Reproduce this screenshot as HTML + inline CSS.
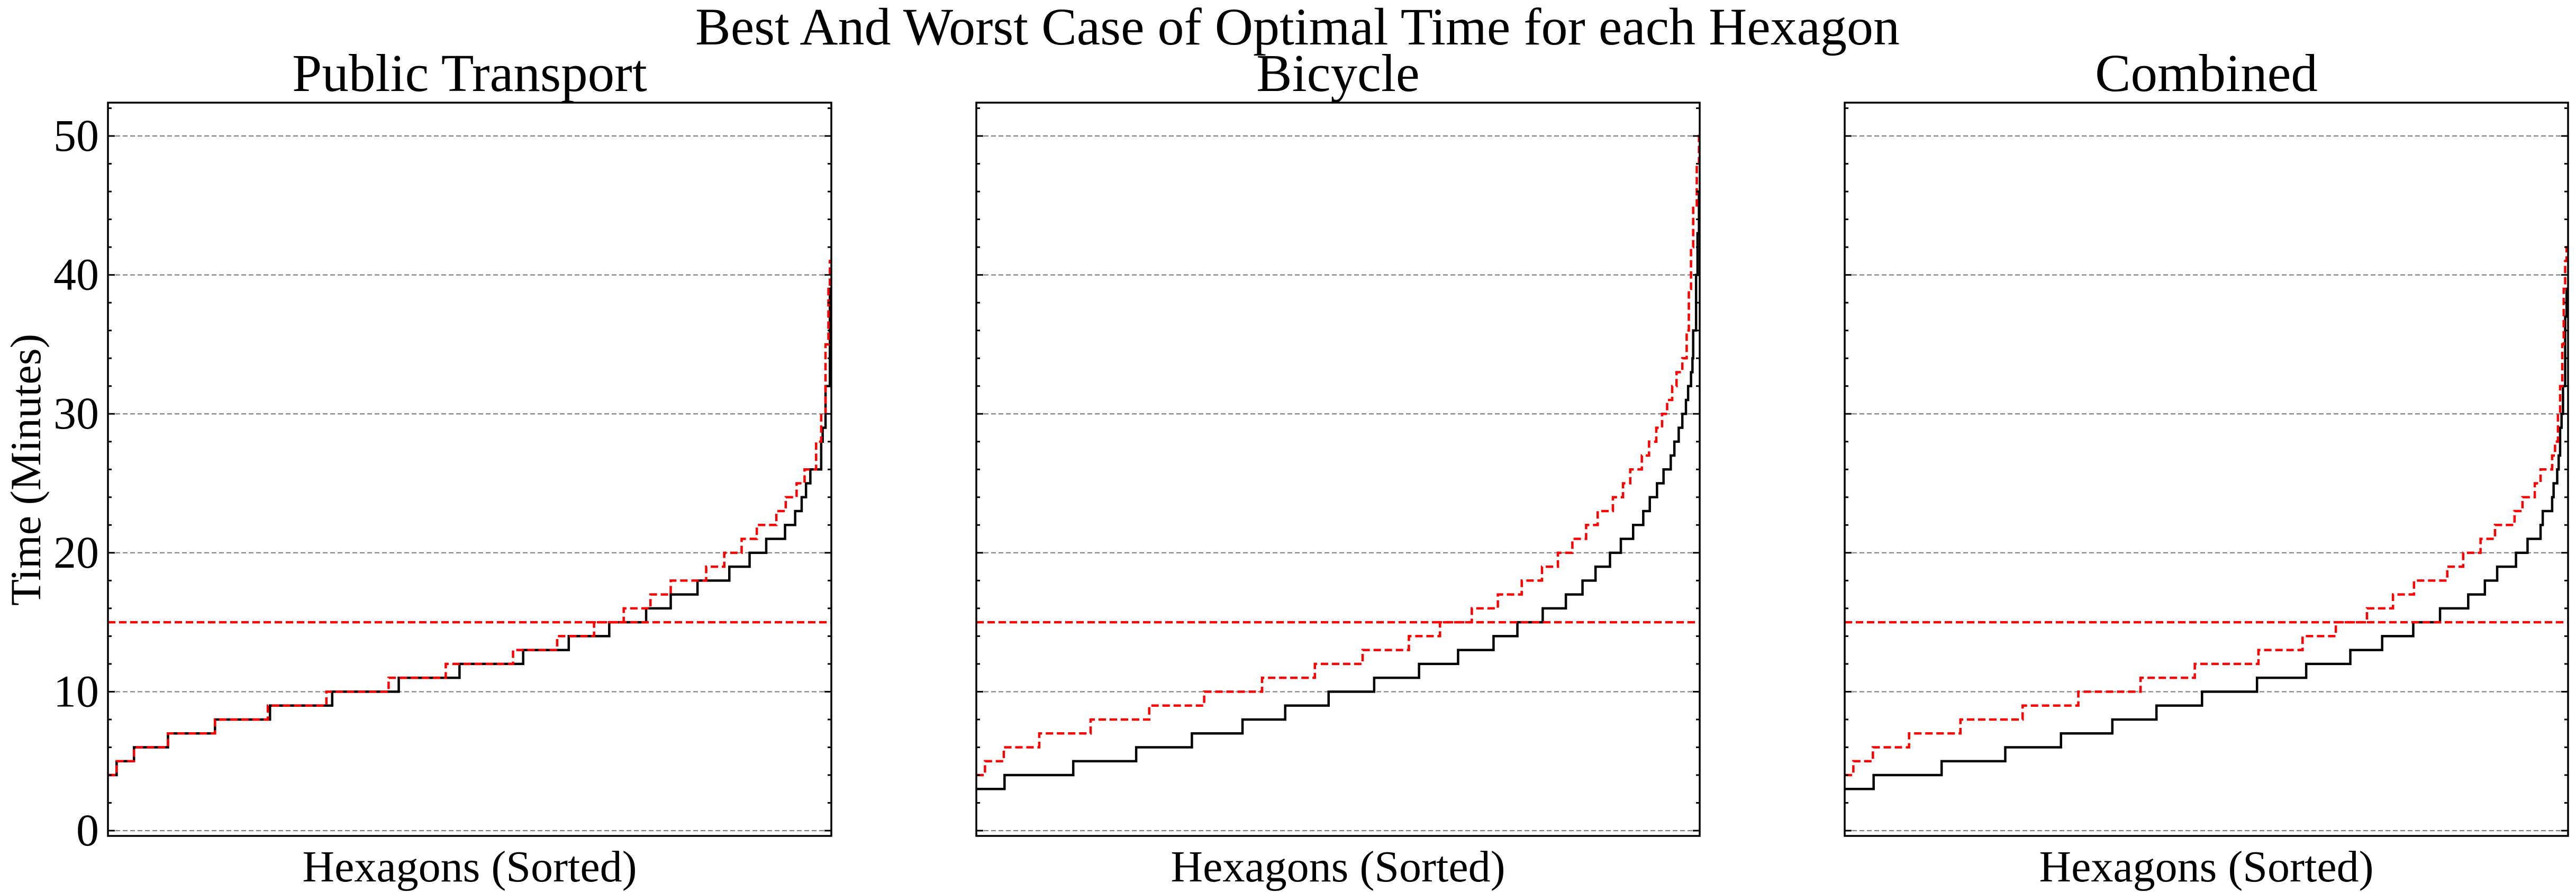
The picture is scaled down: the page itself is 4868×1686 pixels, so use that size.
<!DOCTYPE html>
<html><head><meta charset="utf-8"><style>
html,body{margin:0;padding:0;background:#fff;}
svg{display:block;}
svg text{font-family:"Liberation Serif","Times New Roman","DejaVu Serif",serif;fill:#000;}
</style></head><body>
<svg id="chart" width="4868" height="1686" viewBox="0 0 4868 1686" xmlns="http://www.w3.org/2000/svg" font-family="Liberation Serif, Times New Roman, DejaVu Serif, serif">
<text x="2452" y="84" font-size="100" text-anchor="middle" font-family="Liberation Serif, serif">Best And Worst Case of Optimal Time for each Hexagon</text>
<text transform="translate(76,888) rotate(-90)" font-size="82" text-anchor="middle" font-family="Liberation Serif, serif">Time (Minutes)</text>
</svg>
<script>
const panelTitles = ["Public Transport", "Bicycle", "Combined"];
const yTicks = [0, 10, 20, 30, 40, 50];
const threshold = 15;
// step series: values and the percentile (0-100) of sorted hexagons where each value starts
const ptBestVals = [4,5,6,7,8,9,10,11,12,13,14,15,16,17,18,19,20,21,22,23,24,25,26,28,29,32,39];
const ptBestPct = [0,1.2,3.6,8.3,14.8,22.4,31.0,40.2,48.6,57.4,63.7,69.3,74.4,77.8,81.5,85.9,88.7,91.0,93.6,95.0,95.9,96.5,97.1,98.6,98.8,99.2,99.8];
const ptWorstVals = [4,5,6,7,8,9,10,11,12,13,14,15,16,17,18,19,20,21,22,23,24,25,26,28,30,35,39,41];
const ptWorstPct = [0,1.2,3.6,8.3,14.8,22.1,30.2,38.8,46.7,56.0,62.1,67.2,71.3,75.0,77.8,82.7,85.2,87.6,89.7,92.4,93.7,95.2,96.3,97.9,98.6,99.2,99.6,99.8];
const bkBestVals = [3,4,5,6,7,8,9,10,11,12,13,14,15,16,17,18,19,20,21,22,23,24,25,26,27,28,29,30,31,32,33,34,36,40,43,46];
const bkBestPct = [0,3.9,13.4,22.1,29.8,36.8,42.7,48.7,55.0,61.2,66.6,71.5,74.8,78.3,81.5,83.8,85.6,87.6,89.1,90.8,92.2,93.1,94.1,95.0,96.0,96.5,97.1,97.6,98.1,98.4,98.8,99.0,99.1,99.5,99.7,99.9];
const bkWorstVals = [4,5,6,7,8,9,10,11,12,13,14,15,16,17,18,19,20,21,22,23,24,25,26,27,28,29,30,31,32,33,34,36,39,42,45,48,50];
const bkWorstPct = [0,1.2,3.8,8.7,15.8,23.9,31.5,39.5,46.8,53.4,59.8,64.1,68.5,72.1,75.4,78.2,80.4,82.4,84.3,85.9,88.0,89.4,90.4,92.0,93.0,94.0,94.8,95.5,96.2,96.8,97.6,98.2,98.5,98.8,99.1,99.6,99.9];
const cbBestVals = [3,4,5,6,7,8,9,10,11,12,13,14,15,16,17,18,19,20,21,22,23,24,25,26,27,29,30,32,37,39];
const cbBestPct = [0,4.0,13.4,22.2,29.9,37.0,43.1,49.4,57.0,63.8,69.9,74.3,78.6,82.3,86.2,88.5,90.2,92.8,94.4,96.2,96.5,97.8,98.0,98.5,98.7,98.9,99.1,99.3,99.6,99.8];
const cbWorstVals = [4,5,6,7,8,9,10,11,12,13,14,15,16,17,18,19,20,21,22,23,24,25,26,27,28,30,32,35,39,41,42];
const cbWorstPct = [0,1.2,3.9,8.9,16.0,24.6,32.3,40.9,48.4,57.2,63.3,67.9,72.2,75.8,78.7,83.3,85.5,87.9,89.9,92.6,93.7,95.4,96.2,97.8,98.2,98.6,98.9,99.2,99.4,99.6,99.8];

const svg = document.getElementById('chart');
const NS = 'http://www.w3.org/2000/svg';
const PX0 = [204, 1845, 3486], PW = 1367, PT = 194, PB = 1580;
const Y0 = -0.38, Y1 = 52.4;
function yPos(v){ return PB - (v - Y0) / (Y1 - Y0) * (PB - PT); }
function xPos(p, i){ return PX0[i] + p / 100 * PW; }
function mk(tag, attrs){ const e = document.createElementNS(NS, tag); for (const k in attrs) e.setAttribute(k, attrs[k]); return e; }
function stepPath(vals, pct, i){
  let d = 'M' + xPos(pct[0], i) + ',' + yPos(vals[0]);
  for (let k = 1; k < vals.length; k++){
    d += ' H' + xPos(pct[k], i) + ' V' + yPos(vals[k]);
  }
  d += ' H' + xPos(100, i);
  return d;
}
const FF = 'Liberation Serif, serif';
const series = [[ptBestVals, ptBestPct, ptWorstVals, ptWorstPct],[bkBestVals, bkBestPct, bkWorstVals, bkWorstPct],[cbBestVals, cbBestPct, cbWorstVals, cbWorstPct]];
const slug = ['public-transport','bicycle','combined'];
for (let i = 0; i < 3; i++){
  const g = mk('g', {});
  
  
  svg.appendChild(g);
  const x0 = PX0[i], x1 = PX0[i] + PW;
  const cp = mk('clipPath', {id: 'clip' + i});
  cp.appendChild(mk('rect', {x: x0, y: PT, width: PW, height: PB - PT}));
  g.appendChild(cp);
  yTicks.forEach(v => {
    const l = mk('line', {x1: x0, x2: x1, y1: yPos(v), y2: yPos(v), stroke: '#808080', 'stroke-width': 2.2, 'stroke-dasharray': '9 5'});
    
    
    g.appendChild(l);
  });
  const s = series[i];
  const cg = mk('g', {'clip-path': 'url(#clip' + i + ')'});
  g.appendChild(cg);
  const pb = mk('path', {d: stepPath(s[0], s[1], i), fill: 'none', stroke: '#000', 'stroke-width': 4.5});
  
  
  cg.appendChild(pb);
  const pw = mk('path', {d: stepPath(s[2], s[3], i), fill: 'none', stroke: '#ff0000', 'stroke-width': 4.5, 'stroke-dasharray': '14 7'});
  
  
  cg.appendChild(pw);
  const th = mk('line', {x1: x0, x2: x1, y1: yPos(threshold), y2: yPos(threshold), stroke: '#ff0000', 'stroke-width': 4.5, 'stroke-dasharray': '14 7'});
  
  
  cg.appendChild(th);
  for (let v = 0; v <= 52; v += 2){
    const major = v % 10 === 0, len = major ? 13 : 7;
    const t1 = mk('line', {x1: x0, x2: x0 + len, y1: yPos(v), y2: yPos(v), stroke: '#000', 'stroke-width': 3});
    
    
    g.appendChild(t1);
    const t2 = mk('line', {x1: x1, x2: x1 - len, y1: yPos(v), y2: yPos(v), stroke: '#000', 'stroke-width': 3});
    
    
    g.appendChild(t2);
  }
  const fr = mk('rect', {x: x0, y: PT, width: PW, height: PB - PT, fill: 'none', stroke: '#000', 'stroke-width': 3.5});
  
  
  g.appendChild(fr);
  if (i === 0){
    yTicks.forEach(v => {
      const t = mk('text', {x: 187, y: yPos(v) + 28, 'font-size': 86, 'text-anchor': 'end', 'font-family': FF});
      t.textContent = v;
      
      
      g.appendChild(t);
    });
  }
  const tt = mk('text', {x: x0 + PW / 2, y: 172, 'font-size': 101, 'text-anchor': 'middle', 'font-family': FF});
  tt.textContent = panelTitles[i];
  
  
  g.appendChild(tt);
  const xl = mk('text', {x: x0 + PW / 2, y: 1666, 'font-size': 84, 'text-anchor': 'middle', 'font-family': FF});
  xl.textContent = 'Hexagons (Sorted)';
  
  
  g.appendChild(xl);
}
</script>
</body></html>
